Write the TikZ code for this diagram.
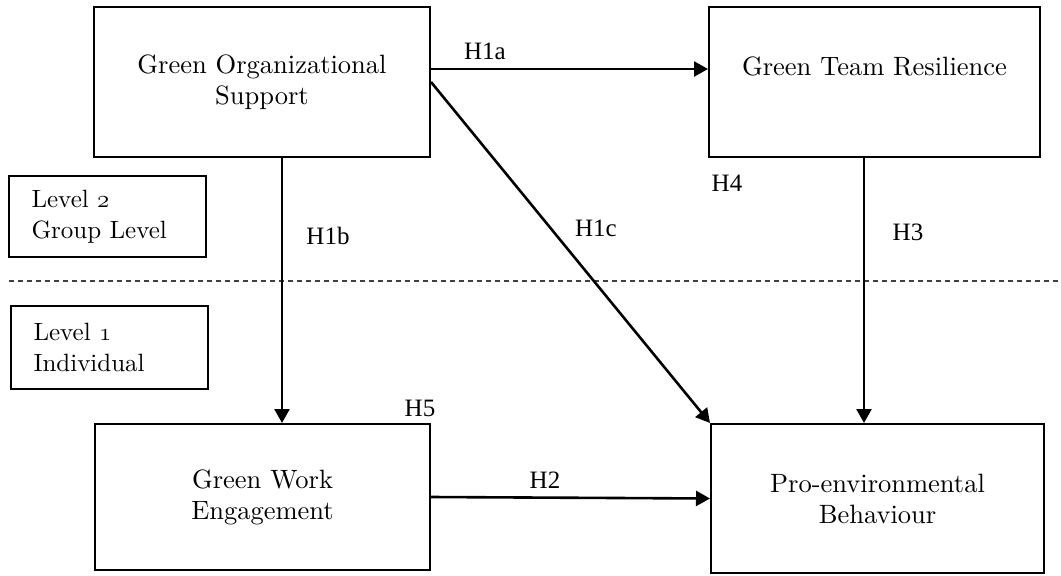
\documentclass[tikz,border=0pt]{standalone}
\usepackage{fontspec}
\usetikzlibrary{arrows.meta, positioning}
\setmainfont{lmroman10-regular}[Extension=.otf]
\newfontfamily\hypfont{Liberation Serif}
\newcommand{\lvlnum}[1]{{\usefont{OML}{cmm}{m}{it}#1}}
\tikzset{construct/.style={draw, line width=2pt, align=center, font=\fontsize{26.5}{31}\selectfont},
         level/.style={draw, line width=1.8pt, minimum width=197pt, text width=152pt, align=left, font=\fontsize{25}{31}\selectfont},
         hyp/.style={inner sep=0pt, font=\hypfont\fontsize{25}{30}\selectfont},
         effect/.style={-{Triangle[length=14pt,width=15pt]}, line width=2.6pt},
        }

\begin{document}
\begin{tikzpicture}[x=1pt,y=-1pt]
        \useasboundingbox (0,0) rectangle (1061,576);
        \node[construct, minimum width=336pt, minimum height=150pt](gos)at(262,82){Green Organizational\\Support};
        \node[construct, minimum width=331pt, minimum height=150pt](gtr)at(874.5,82){Green Team Resilience\\~};
        \node[construct, minimum width=335pt, minimum height=146pt](gwe)at(262.5,497){Green Work\\Engagement};
        \node[construct, minimum width=333pt, minimum height=149pt](peb)at(877.5,498.5){Pro-environmental\\Behaviour};

        \node[level, minimum height=81pt](lvl2)at(107.5,216.5){Level \lvlnum{2}\\Group Level};
        \node[level, minimum height=83pt](lvl1)at(109.5,347.5){Level \lvlnum{1}\\Individual};
        \draw[dash pattern=on 5pt off 4pt, line width=1.3pt, black!75](9,281)--(1061,281);

        \draw[effect]([yshift=13pt]gos.east)--([yshift=13pt]gtr.west);
        \draw[effect]([xshift=20pt]gos.south)--([xshift=20pt]gos.south |- gwe.north);
        \draw[effect](gos.east)--(peb.north west);
        \draw[effect]([xshift=-10.5pt]gtr.south)--([xshift=-10.5pt]gtr.south |- peb.north);
        \draw[effect](gwe.east)--(peb.west);

        \node[hyp](h1a)at(485,51){H1a};
        \node[hyp](h1b)at(328,236){H1b};
        \node[hyp](h1c)at(596,228){H1c};
        \node[hyp](h4)at(727,183){H4};
        \node[hyp](h3)at(908,232){H3};
        \node[hyp](h5)at(420,408){H5};
        \node[hyp](h2)at(545,480){H2};
    \end{tikzpicture}
\end{document}
